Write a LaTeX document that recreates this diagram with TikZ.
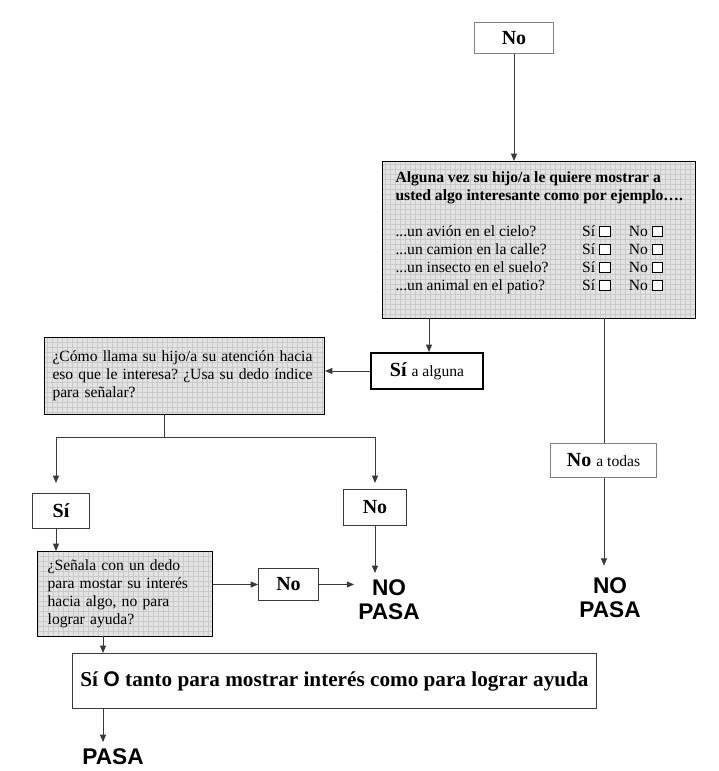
\documentclass[tikz,border=0pt]{standalone}
\usepackage{fontspec}
\usepackage{xcolor}
\usepackage{tikz}
\usetikzlibrary{arrows.meta,positioning,calc}
\setmainfont{Liberation Serif}
\setsansfont{Liberation Sans}
\frenchspacing
\definecolor{gridfill}{HTML}{E3E3E3}
\definecolor{gridline}{HTML}{CACACA}
\definecolor{linegray}{HTML}{3A3A3A}
\newcommand{\cajita}{{\setlength{\fboxsep}{0pt}\setlength{\fboxrule}{0.8pt}\fcolorbox{black}{white}{\rule{0pt}{7pt}\hspace{7pt}}}}
\newcommand{\txt}{\fontsize{11.7pt}{13.5pt}\selectfont}
\newcommand{\grande}{\fontsize{15pt}{17pt}\selectfont\bfseries}
\newcommand{\nopasa}{\fontsize{17pt}{18pt}\selectfont\sffamily\bfseries}

\tikzset{
  box/.style={draw=linegray, line width=0.75pt, anchor=north west, inner sep=0pt},
  gridbox/.style={box, draw=black, fill=gridfill, font=\txt,
    path picture={\draw[gridline, line width=0.25pt, step=3.75pt]
      (path picture bounding box.south west) grid (path picture bounding box.north east);}},
  line/.style={draw=linegray, line width=0.75pt},
  arr/.style={line, -{Stealth[length=5.5pt,width=4.5pt,inset=0pt]}},
  result/.style={align=center, inner sep=3pt, font=\nopasa}
}

\begin{document}
\begin{tikzpicture}[x=0.75pt,y=0.75pt,yscale=-1,xscale=1]
\useasboundingbox (0,0) rectangle (718,771);
% boxes
\node[box, draw=gray, minimum width=59.25pt, minimum height=23.25pt, font=\grande] (topno) at (474,22) {No};
\node[gridbox, line width=1.1pt, minimum width=234.75pt, minimum height=117.75pt, inner xsep=7.5pt] (bigq) at (382,161) {%
  \begin{tabular}{@{}p{140pt}@{}p{35pt}@{}l@{}}
  \multicolumn{3}{@{}l@{}}{\bfseries Alguna vez su hijo/a le quiere mostrar a}\\
  \multicolumn{3}{@{}l@{}}{\bfseries usted algo interesante como por ejemplo….}\\[13pt]
  ...un avión en el cielo? & Sí \cajita & No \cajita\\
  ...un camion en la calle? & Sí \cajita & No \cajita\\
  ...un insecto en el suelo? & Sí \cajita & No \cajita\\
  ...un animal en el patio? & Sí \cajita & No \cajita\\[11pt]
  \end{tabular}};
\node[box, draw=black, line width=1.5pt, minimum width=84pt, minimum height=27pt, font=\grande] (sialg) at (370,352) {Sí \mdseries\txt a alguna};
\node[gridbox, minimum width=210pt, minimum height=57.75pt, inner xsep=6pt, text width=198pt, align=left] (q2) at (44,337) {%
  ¿Cómo llama su hijo/a su atención hacia\\eso que le interesa? ¿Usa su dedo índice\\para señalar?\\[5pt]};
\node[box, draw=gray, minimum width=79.5pt, minimum height=25.5pt, font=\grande] (notodas) at (550,443) {No \mdseries\txt a todas};
\node[box, minimum width=42.75pt, minimum height=26.25pt, font=\grande] (sib) at (32,493) {Sí};
\node[box, minimum width=47.25pt, minimum height=27pt, font=\grande] (nob) at (343,489) {No};
\node[gridbox, minimum width=131.25pt, minimum height=63.75pt, inner xsep=7.5pt, text width=116pt, align=left] (q3) at (37,551) {%
  ¿Señala con un dedo\\para mostar su interés\\hacia algo, no para\\lograr ayuda?};
\node[box, minimum width=45pt, minimum height=24pt, font=\grande] (no3) at (258,568) {No};
\node[box, minimum width=393pt, minimum height=41.25pt, font=\fontsize{15.9pt}{17pt}\selectfont\bfseries] (final) at (72,653) {Sí {\sffamily O} tanto para mostrar interés como para lograr ayuda};
% results
\node[result] (nopasa1) at (389,600) {NO\\PASA};
\node[result] (nopasa2) at (610,598) {NO\\PASA};
\node[result] (pasa) at (113,757) {PASA};
% connectors
\coordinate (bq1) at (429,318);
\coordinate (bq2) at (604,318);
\coordinate (q2s) at (164,414);
\coordinate (brL) at (56,437);
\coordinate (brR) at (375,437);
\coordinate (q3s) at (103,636);
\draw[arr] (topno.south) -- (topno.south |- bigq.north);
\draw[arr] (bq1) -- (bq1 |- sialg.north);
\draw[arr] (sialg.west) -- (sialg.west -| q2.east);
\draw[line] (bq2) -- (bq2 |- notodas.north);
\draw[arr, shorten >=6pt] (notodas.south -| bq2) -- (bq2 |- nopasa2.north);
\draw[line] (q2s) -- (q2s |- brL);
\draw[line] (brL) -- (brR);
\draw[arr, shorten >=7.5pt] (brL) -- (brL |- sib.north);
\draw[arr, shorten >=4.5pt] (brR) -- (brR |- nob.north);
\draw[arr] (sib.south -| brL) -- (brL |- q3.north);
\draw[arr] (no3.west -| q3.east) -- (no3.west);
\draw[arr] (no3.east) -- (no3.east -| nopasa1.west);
\draw[arr, shorten >=2pt] (nob.south -| brR) -- (brR |- nopasa1.north);
\draw[arr] (q3s) -- (q3s |- final.north);
\draw[arr, shorten >=2pt] (final.south -| q3s) -- (q3s |- pasa.north);
\end{tikzpicture}
\end{document}
